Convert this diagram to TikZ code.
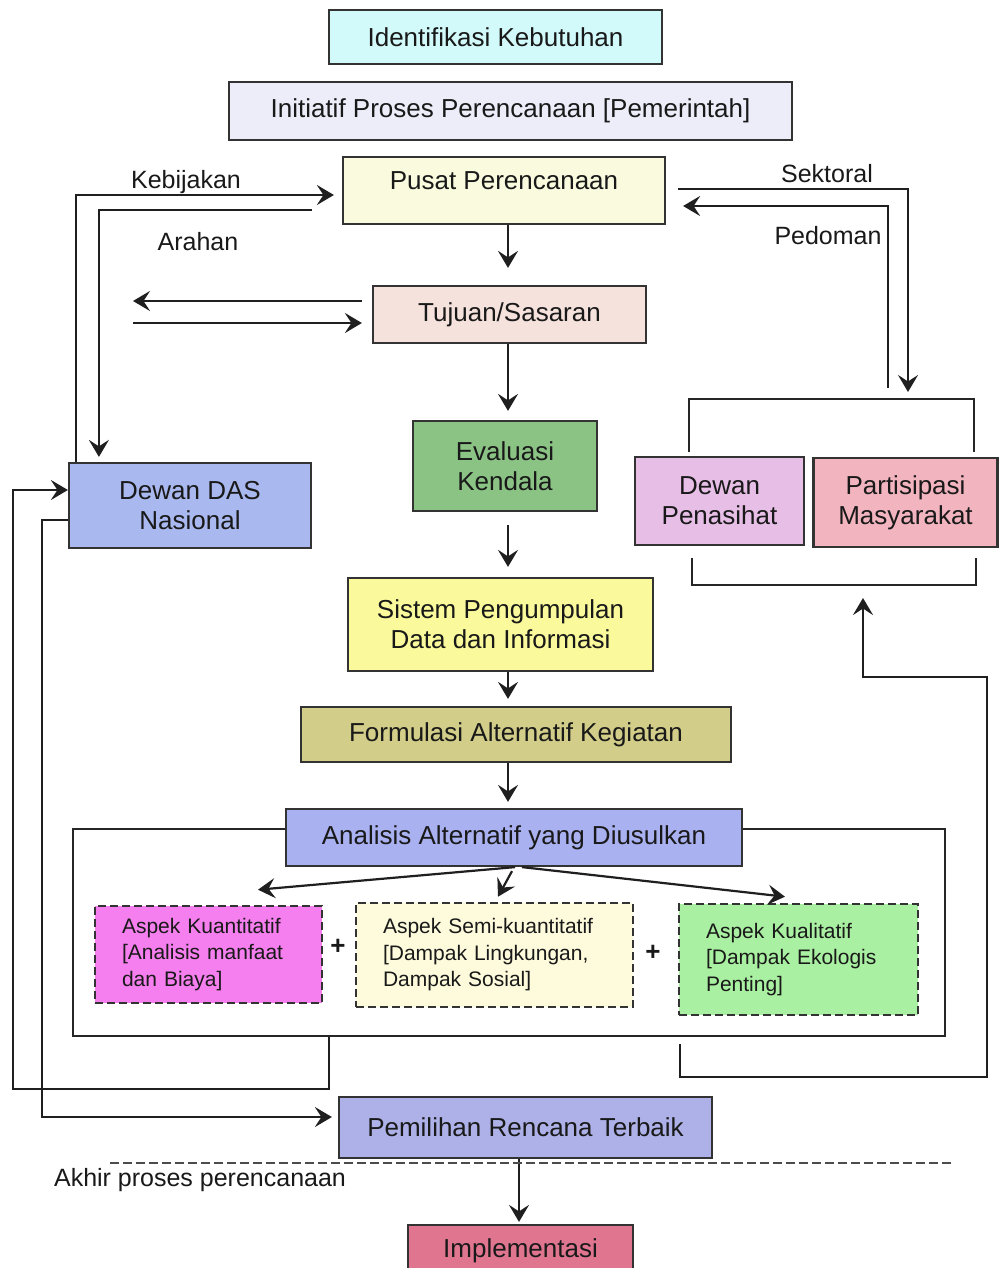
\documentclass[tikz,border=0pt]{standalone}
\usepackage{fontspec}
\setmainfont{Liberation Sans}
\usetikzlibrary{arrows.meta,calc}
\definecolor{cIdent}{HTML}{D2FAFA}
\definecolor{cInit}{HTML}{EDEDFA}
\definecolor{cPusat}{HTML}{FAFADF}
\definecolor{cTujuan}{HTML}{F5E2DD}
\definecolor{cEval}{HTML}{8AC384}
\definecolor{cDewan}{HTML}{A9B8EE}
\definecolor{cPenas}{HTML}{E6BEE6}
\definecolor{cPartis}{HTML}{F2B5BF}
\definecolor{cSistem}{HTML}{FAFA9C}
\definecolor{cFormul}{HTML}{D2CD88}
\definecolor{cAnalis}{HTML}{A9B1F0}
\definecolor{cKuant}{HTML}{F57FEE}
\definecolor{cSemi}{HTML}{FDFBDC}
\definecolor{cKual}{HTML}{AAF0A2}
\definecolor{cPilih}{HTML}{ADB1E8}
\definecolor{cImpl}{HTML}{E07590}
\begin{document}
\begin{tikzpicture}[x=1pt,y=-1pt,
  box/.style={draw=black!80, line width=2.2pt, align=center, inner sep=0pt,
    text=black!90, font=\fontsize{26}{30}\selectfont},
  dbox/.style={draw=black!80, line width=2.6pt, dash pattern=on 8pt off 4pt,
    align=left, inner sep=0pt, text=black!90, font=\fontsize{21}{26.5}\selectfont},
  arr/.style={draw=black!88, line width=2.2pt, -{Stealth[length=17pt,width=20pt,inset=6.5pt]}},
  ln/.style={draw=black!85, line width=2.2pt},
  lbl/.style={font=\fontsize{25}{30}\selectfont, text=black!90, inner sep=0pt}]
\useasboundingbox (0,0) rectangle (999,1268);
\fill[white] (0,0) rectangle (999,1268);

% main column
\node[box, fill=cIdent, minimum width=333pt, minimum height=54pt] (ident) at (495.5,37) {Identifikasi Kebutuhan};
\node[box, fill=cInit, minimum width=563pt, minimum height=58pt] (init) at (510.5,111) {Initiatif Proses Perencanaan [Pemerintah]};
\node[box, fill=cPusat, minimum width=322pt, minimum height=67pt, text depth=19pt] (pusat) at (504,190.5) {Pusat Perencanaan};
\node[box, fill=cTujuan, minimum width=273pt, minimum height=57pt] (tujuan) at (509.5,314.5) {Tujuan/Sasaran};
\node[box, fill=cEval, minimum width=184pt, minimum height=90pt] (eval) at (505,466) {Evaluasi\\Kendala};
\node[box, fill=cDewan, minimum width=242pt, minimum height=85pt] (dewan) at (190,505.5) {Dewan DAS\\Nasional};
\node[box, fill=cPenas, minimum width=169pt, minimum height=88pt] (penas) at (719.5,501) {Dewan\\Penasihat};
\node[box, fill=cPartis, minimum width=184pt, minimum height=89pt] (partis) at (905.5,502.5) {Partisipasi\\Masyarakat};
\node[box, fill=cSistem, minimum width=305pt, minimum height=93pt] (sistem) at (500.5,624.5) {Sistem Pengumpulan\\Data dan Informasi};
\node[box, fill=cFormul, minimum width=430pt, minimum height=55pt] (formul) at (516,734.5) {Formulasi Alternatif Kegiatan};

% analysis frame
\node[draw=black!85, line width=2.2pt, minimum width=872pt, minimum height=207pt, inner sep=0pt] (frame) at (509,932.5) {};
\node[box, fill=cAnalis, minimum width=456pt, minimum height=57pt] (analis) at (514,837.5) {Analisis Alternatif yang Diusulkan};

\node[dbox, fill=cKuant, minimum width=227pt, minimum height=97pt, text width=173pt] (kuant) at (208.5,954.5) {Aspek Kuantitatif\\{}[Analisis manfaat\\dan Biaya]};
\node[dbox, fill=cSemi, minimum width=277pt, minimum height=104pt, text width=223pt] (semi) at (494.5,955) {Aspek Semi-kuantitatif\\{}[Dampak Lingkungan,\\Dampak Sosial]};
\node[dbox, fill=cKual, minimum width=239pt, minimum height=111pt, text width=185pt] (kual) at (798.5,959.5) {Aspek Kualitatif\\{}[Dampak Ekologis\\Penting]};
\node[lbl, font=\fontsize{26}{30}\bfseries] (plus1) at (338,947) {+};
\node[lbl, font=\fontsize{26}{30}\bfseries] (plus2) at (653,953) {+};

\node[box, fill=cPilih, minimum width=373pt, minimum height=61pt] (pilih) at (525.5,1127.5) {Pemilihan Rencana Terbaik};
\node[box, fill=cImpl, minimum width=225pt, minimum height=52pt] (impl) at (520.5,1251) {Implementasi};

% labels
\node[lbl] (kebij) at (186,182) {Kebijakan};
\node[lbl] (arahan) at (198,242) {Arahan};
\node[lbl] (sektor) at (827,174) {Sektoral};
\node[lbl] (pedom) at (828,236) {Pedoman};
\node[lbl] (akhir) at (200,1180) {Akhir proses perencanaan};

% coordinates
\coordinate (spine) at (508,0);
\coordinate (tl1) at (133,301);
\coordinate (tl2) at (133,323);
\coordinate (sk) at (908,399);
\coordinate (pd) at (888,388);
\coordinate (la) at (13,1089);
\coordinate (lb) at (42,1117);
\coordinate (rl1) at (987,1077);
\coordinate (rl2) at (863,677);
\coordinate (brbot) at (863,585);
\coordinate (dl1) at (110,1163);
\coordinate (dl2) at (952,1163);

% brackets around Dewan Penasihat / Partisipasi
\draw[ln] (689,452) |- (974,399) -- (974,452);
\draw[ln] (692,558) |- (976,585) -- (976,558);

% spine arrows
\draw[arr, shorten >=17pt] (pusat.south -| spine) -- (tujuan.north -| spine);
\draw[arr, shorten >=9pt] (tujuan.south -| spine) -- (eval.north -| spine);
\draw[arr, shorten <=13pt, shorten >=10pt] (eval.south -| spine) -- (sistem.north -| spine);
\draw[arr, shorten >=7pt] (sistem.south -| spine) -- (formul.north -| spine);
\draw[arr, shorten >=6pt] (formul.south -| spine) -- (analis.north -| spine);

% fork from analysis
\draw[arr] ([xshift=1pt]analis.south) -- ([xshift=49.5pt,yshift=15pt]kuant.north);
\draw[arr] ([xshift=-2pt,yshift=-4pt]analis.south) -- ([xshift=3.5pt,yshift=5pt]semi.north);
\draw[arr] ([xshift=8pt]analis.south) -- ([xshift=-13.5pt,yshift=6pt]kual.north);

% left side
\draw[arr, shorten >=8pt] ([xshift=8pt]dewan.north west) |- ([yshift=-4.5pt]pusat.west);
\draw[arr, shorten >=5pt] ([xshift=-30pt,yshift=-19.5pt]pusat.west) -| ([xshift=31pt]dewan.north west);
\draw[arr] ([xshift=-10pt,yshift=13.5pt]tujuan.west) -- (tl1);
\draw[arr, shorten >=10pt] (tl2) -- ([yshift=-8.5pt]tujuan.west);

% right side
\draw[arr, shorten >=7pt] ([xshift=12pt,yshift=1.5pt]pusat.east) -| (sk);
\draw[arr] (pd) |- ([xshift=17pt,yshift=-15.5pt]pusat.east);

% feedback loops
\draw[arr] ([xshift=257pt]frame.south west) |- (la) |- ([yshift=15.5pt]dewan.west);
\draw[arr, shorten >=6pt] ([yshift=-14.5pt]dewan.west) -| (lb) -- ([yshift=10.5pt]pilih.west);
\draw[arr, shorten <=7pt, shorten >=13pt] ([xshift=171pt]frame.south) |- (rl1) |- (rl2) -- (brbot);

% end of planning
\draw[arr, shorten >=2pt] ([xshift=-6.5pt]pilih.south) -- ([xshift=-1.5pt]impl.north);
\draw[draw=black!70, line width=2.4pt, dash pattern=on 9pt off 4pt] (dl1) -- (dl2);
\end{tikzpicture}
\end{document}
